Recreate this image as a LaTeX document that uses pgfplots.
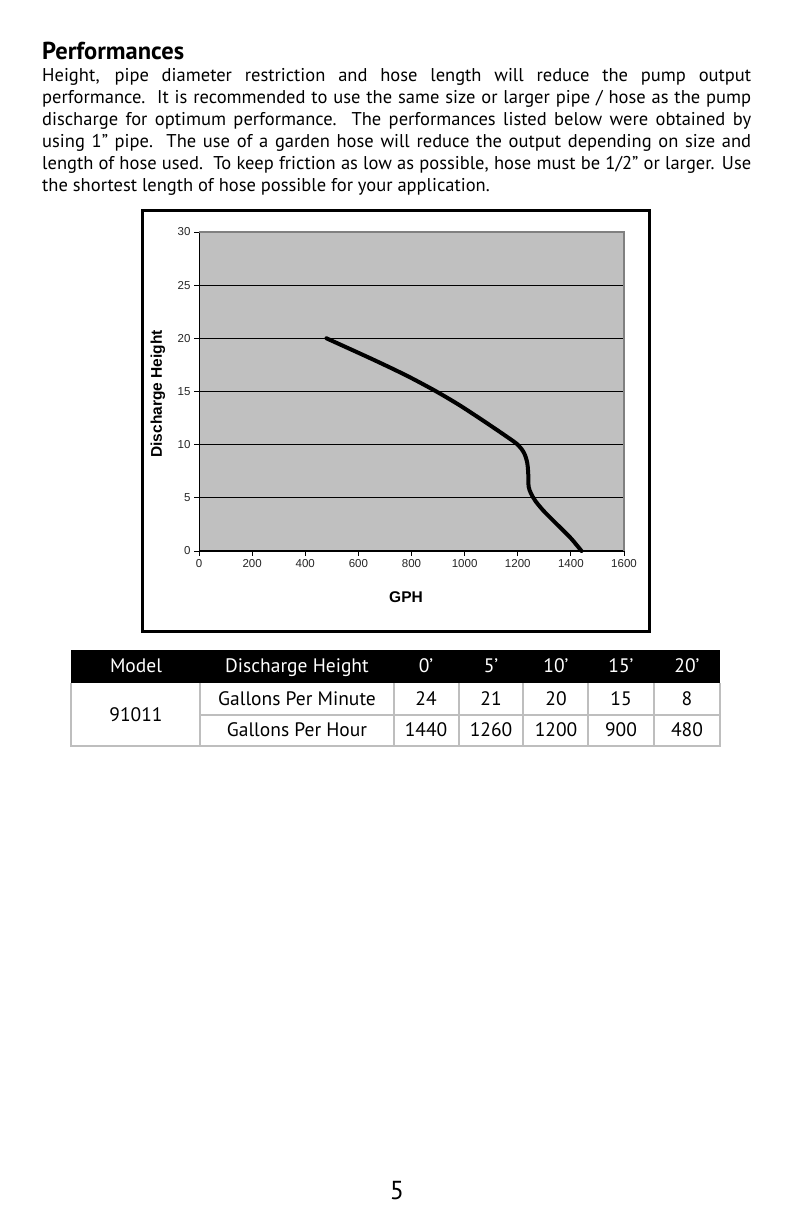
\documentclass[border=0pt]{standalone}
\usepackage{fontspec}
\setmainfont{PT Sans}
\newfontfamily\arial{Liberation Sans}
\usepackage{pgfplots}
\pgfplotsset{compat=1.18}
\definecolor{plotgray}{RGB}{192,192,192}
\definecolor{bordergray}{RGB}{128,128,128}
\definecolor{tablegray}{RGB}{190,190,190}
\begin{document}
\begin{tikzpicture}
\path[fill=white] (0pt,0pt) rectangle (793pt,1225pt);
% heading
\node[anchor=base west, inner sep=0pt, font=\bfseries\fontsize{24.5}{28}\selectfont] at (42pt,1165pt) {Performances};
% body
\begin{scope}[every node/.style={anchor=base west, inner sep=0pt, font=\fontsize{18.5}{22}\selectfont}]
\node at (42pt,1143pt) {\makebox[709pt][s]{Height, pipe diameter restriction and hose length will reduce the pump output}};
\node at (42pt,1121pt) {\makebox[709pt][s]{performance.\ \ It is recommended to use the same size or larger pipe / hose as the pump}};
\node at (42pt,1099pt) {\makebox[709pt][s]{discharge for optimum performance.\ \ The performances listed below were obtained by}};
\node at (42pt,1077pt) {\makebox[709pt][s]{using 1” pipe.\ \ The use of a garden hose will reduce the output depending on size and}};
\node at (42pt,1055pt) {\makebox[709pt][s]{length of hose used.\ \ To keep friction as low as possible, hose must be 1/2” or larger. Use}};
\node at (42pt,1033pt) {the shortest length of hose possible for your application.};
\end{scope}
% chart frame
\draw[line width=3pt] (142pt,593pt) rectangle (649pt,1014pt);
\begin{axis}[at={(199pt,674pt)}, anchor=south west, scale only axis,
  width=425pt, height=319pt,
  xmin=0, xmax=1600, ymin=0, ymax=30,
  xtick={0,200,...,1600}, ytick={0,5,...,30},
  axis background/.style={fill=plotgray},
  axis x line*=bottom, axis y line*=left,
  axis line style={black, line width=1pt, -},
  tick align=outside, major tick length=5pt,
  tick style={black, line width=0.8pt},
  ymajorgrids, grid style={black, line width=0.9pt},
  ticklabel style={font=\arial\fontsize{11.5}{13}\selectfont, text=black!85},
  /pgf/number format/assume math mode=true,
  /pgf/number format/1000 sep={},
  clip=false,
  after end axis/.code={\draw[bordergray, line width=2.5pt] (rel axis cs:0,1) -- (rel axis cs:1,1) -- (rel axis cs:1,0);}
]
\addplot[black, line width=4pt, smooth, tension=0.5, line cap=round, line join=round] coordinates {
(480,20) (660,17.95) (785,16.45) (890,15.05) (975,13.8) (1040,12.75) (1100,11.75) (1150,10.9) (1200,10) (1224,9.2) (1236,8.25) (1240,7) (1241,6.05) (1250,5.4) (1268,4.65) (1300,3.7) (1350,2.45) (1400,1.2) (1440,0)};
\end{axis}
\node[rotate=90, font=\arial\bfseries\fontsize{15.5}{17}\selectfont] at (158pt,831pt) {Discharge Height};
\node[font=\arial\bfseries\fontsize{15.5}{17}\selectfont] at (406pt,628pt) {GPH};
% table
\fill[black] (71pt,542pt) rectangle (720pt,575pt);
\foreach \xx in {71,200,394,459,523,588,654,720} {\draw[tablegray, line width=1.5pt] (\xx pt,542pt) -- (\xx pt,479pt);}
\draw[tablegray, line width=1.5pt] (200pt,510pt) -- (720pt,510pt);
\draw[tablegray, line width=2.5pt] (70pt,479pt) -- (721pt,479pt);
\begin{scope}[every node/.style={anchor=base, inner sep=0pt, font=\fontsize{19.5}{22}\selectfont}]
\node[text=white] at (136pt,552pt) {Model};
\node[text=white] at (297pt,552pt) {Discharge Height};
\node[text=white] at (426pt,552pt) {0’};
\node[text=white] at (491pt,552pt) {5’};
\node[text=white] at (556pt,552pt) {10’};
\node[text=white] at (621pt,552pt) {15’};
\node[text=white] at (687pt,552pt) {20’};
\node at (136pt,503pt) {91011};
\node at (297pt,519pt) {Gallons Per Minute};
\node at (426pt,519pt) {24};
\node at (491pt,519pt) {21};
\node at (556pt,519pt) {20};
\node at (621pt,519pt) {15};
\node at (687pt,519pt) {8};
\node at (297pt,488pt) {Gallons Per Hour};
\node at (426pt,488pt) {1440};
\node at (491pt,488pt) {1260};
\node at (556pt,488pt) {1200};
\node at (621pt,488pt) {900};
\node at (687pt,488pt) {480};
\end{scope}
\node[anchor=base, inner sep=0pt, font=\fontsize{26}{30}\selectfont] at (397pt,25pt) {5};
\end{tikzpicture}
\end{document}
